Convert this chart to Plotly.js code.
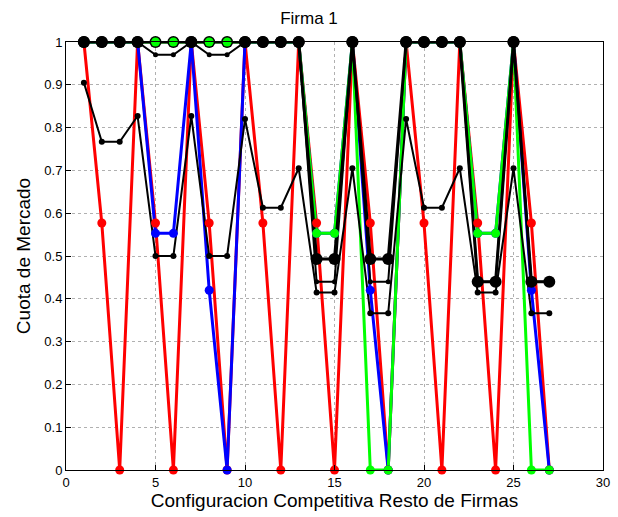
<!DOCTYPE html>
<html>
<head>
<meta charset="utf-8">
<script src="https://cdn.plot.ly/plotly-3.0.1.min.js"></script>
<style>html,body{margin:0;padding:0;background:#fff;}#chart{width:618px;height:517px;}</style>
</head>
<body>
<div id="chart"></div>
<script>
// Configurations 1..27
var configs = [];
for (var i = 1; i <= 27; i++) configs.push(i);

var serieRoja = [1,0.577,0, 1,0.577,0, 1,0.577,0, 1,0.577,0, 1,0.577,0, 1,0.577,0, 1,0.577,0, 1,0.577,0, 1,0.577,0];
var serieAzul = [1,1,1,1,0.553,0.553,1,0.42,0, 1,1,1,1,0.553,0.553,1,0.42,0, 1,1,1,1,0.553,0.553,1,0.42,0];
var serieVerde = [1,1,1,1,1,1,1,1,1, 1,1,1,1,0.553,0.553,1,0,0, 1,1,1,1,0.553,0.553,1,0,0];
var serieNegraGruesa = [1,1,1,1,1,1,1,1,1, 1,1,1,1,0.493,0.493,1,0.493,0.493, 1,1,1,1,0.44,0.44,1,0.44,0.44];
var serieNegraCruz = [1,1,1,1,0.97,0.97,1,0.97,0.97, 1,1,1,1,0.44,0.44,1,0.44,0.44, 1,1,1,1,0.44,0.44,1,0.44,0.44];
var serieNegraFina = [0.905,0.767,0.767,0.827,0.5,0.5,0.827,0.5,0.5, 0.82,0.613,0.613,0.705,0.415,0.415,0.705,0.366,0.366, 0.82,0.613,0.613,0.705,0.415,0.415,0.705,0.366,0.366];

var xTicks = [0,5,10,15,20,25,30];
var yTicks = [0,0.1,0.2,0.3,0.4,0.5,0.6,0.7,0.8,0.9,1];
var yTickText = ['0','0.1','0.2','0.3','0.4','0.5','0.6','0.7','0.8','0.9','1'];

function lineTr(y, color, width) {
  return {x: configs, y: y, type: 'scatter', mode: 'lines',
    line: {color: color, width: width}, showlegend: false, hoverinfo: 'skip'};
}
function markTr(y, color, size) {
  return {x: configs, y: y, type: 'scatter', mode: 'markers',
    marker: {color: color, size: size, symbol: 'circle', opacity: 1, line: {width: 0}},
    showlegend: false, hoverinfo: 'skip', cliponaxis: false};
}

var crossSizes = serieNegraCruz.map(function(v){ return v >= 0.999 ? 12 : 5; });

var data = [
  lineTr(serieRoja, '#ff0000', 3),
  lineTr(serieAzul, '#0000ff', 3),
  lineTr(serieVerde, '#00ff00', 3),
  lineTr(serieNegraGruesa, '#000000', 3),
  lineTr(serieNegraCruz, '#000000', 2),
  lineTr(serieNegraFina, '#000000', 2),
  markTr(serieRoja, '#ff0000', 9),
  markTr(serieAzul, '#0000ff', 9),
  markTr(serieNegraGruesa, '#000000', 12),
  markTr(serieVerde, '#00ff00', 9),
  markTr(serieNegraCruz, '#000000', crossSizes),
  markTr(serieNegraFina, '#000000', 6)
];

var axisCommon = {
  showline: true, mirror: true, linecolor: '#000', linewidth: 1,
  ticks: 'inside', ticklen: 5, tickcolor: '#000',
  showgrid: true, gridcolor: '#b0b0b0', griddash: 'dot', gridwidth: 1,
  zeroline: false,
  tickfont: {family: 'Liberation Sans, Arial, sans-serif', size: 13, color: '#000'}
};

var layout = {
  width: 618, height: 517,
  margin: {l: 66, r: 15, t: 42, b: 47},
  paper_bgcolor: '#fff', plot_bgcolor: '#fff',
  title: {text: 'Firma 1', font: {family: 'Liberation Sans, Arial, sans-serif', size: 17, color: '#000'}, x: 0.5, xanchor: 'center', y: 0.965, yanchor: 'middle'},
  xaxis: Object.assign({}, axisCommon, {
    range: [0, 30], tickvals: xTicks, ticktext: xTicks.map(String),
    title: {text: 'Configuracion Competitiva Resto de Firmas', font: {family: 'Liberation Sans, Arial, sans-serif', size: 19, color: '#000'}, standoff: 4}
  }),
  yaxis: Object.assign({}, axisCommon, {
    range: [0, 1], tickvals: yTicks, ticktext: yTickText,
    title: {text: 'Cuota de Mercado', font: {family: 'Liberation Sans, Arial, sans-serif', size: 19, color: '#000'}, standoff: 8}
  })
};

Plotly.newPlot('chart', data, layout, {staticPlot: true, displayModeBar: false});
</script>
</body>
</html>
